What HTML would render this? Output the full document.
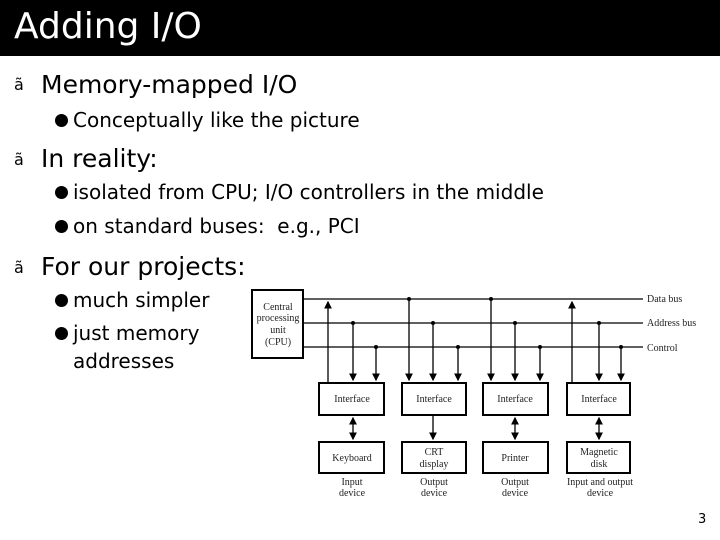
<!DOCTYPE html>
<html><head><meta charset="utf-8"><style>
body{margin:0;width:720px;height:540px;background:#fff;position:relative;overflow:hidden;font-family:"DejaVu Sans","Liberation Sans",sans-serif;}
.t{position:absolute;white-space:nowrap;color:#000;}
.b{position:absolute;width:13px;height:13px;border-radius:50%;background:#000;}
.bar{position:absolute;left:0;top:0;width:720px;height:56px;background:#000;}
</style></head><body>
<div class="bar"></div>
<div class="t" style="left:14px;top:6px;font-size:36px;color:#fff;">Adding I/O</div>
<div class="t" style="left:14px;top:75px;font-size:16px;">ã</div>
<div class="t" style="left:41px;top:70px;font-size:25px;">Memory-mapped I/O</div>
<div class="b" style="left:55px;top:114px"></div>
<div class="t" style="left:73px;top:108px;font-size:20px;">Conceptually like the picture</div>
<div class="t" style="left:14px;top:150px;font-size:16px;">ã</div>
<div class="t" style="left:41px;top:144px;font-size:25px;">In reality:</div>
<div class="b" style="left:55px;top:186px"></div>
<div class="t" style="left:73px;top:180px;font-size:20px;">isolated from CPU; I/O controllers in the middle</div>
<div class="b" style="left:55px;top:220px"></div>
<div class="t" style="left:73px;top:214px;font-size:20px;">on standard buses:&nbsp; e.g., PCI</div>
<div class="t" style="left:14px;top:258px;font-size:16px;">ã</div>
<div class="t" style="left:41px;top:252px;font-size:25px;">For our projects:</div>
<div class="b" style="left:55px;top:294px"></div>
<div class="t" style="left:73px;top:288px;font-size:20px;">much simpler</div>
<div class="b" style="left:55px;top:327px"></div>
<div class="t" style="left:73px;top:321px;font-size:20px;">just memory</div>
<div class="t" style="left:73px;top:349px;font-size:20px;">addresses</div>
<div class="t" style="left:698px;top:512px;font-size:13px;">3</div>
<svg style="position:absolute;left:0;top:0" width="720" height="540" font-family="Liberation Serif,serif" font-size="10">
<defs><marker id="a" markerWidth="6" markerHeight="6" refX="5" refY="3" orient="auto-start-reverse"><path d="M0,0L6,3L0,6z"/></marker></defs>
<g stroke="#000" fill="none">
<rect x="252" y="290" width="51" height="68" stroke-width="2"/>
<line x1="303" y1="299" x2="643" y2="299" stroke-width="1.3"/>
<line x1="303" y1="323" x2="643" y2="323" stroke-width="1.3"/>
<line x1="303" y1="347" x2="643" y2="347" stroke-width="1.3"/>
<g stroke-width="2">
<rect x="319" y="383" width="65" height="32"/><rect x="402" y="383" width="64" height="32"/><rect x="483" y="383" width="65" height="32"/><rect x="567" y="383" width="63" height="32"/>
<rect x="319" y="442" width="65" height="31"/><rect x="402" y="442" width="64" height="31"/><rect x="483" y="442" width="65" height="31"/><rect x="567" y="442" width="63" height="31"/>
</g>
<g stroke-width="1.3">
<line x1="328" y1="383" x2="328" y2="302" marker-end="url(#a)"/>
<line x1="409" y1="299" x2="409" y2="380" marker-end="url(#a)"/>
<line x1="491" y1="299" x2="491" y2="380" marker-end="url(#a)"/>
<line x1="572" y1="383" x2="572" y2="302" marker-end="url(#a)"/>
<line x1="353" y1="323" x2="353" y2="380" marker-end="url(#a)"/>
<line x1="433" y1="323" x2="433" y2="380" marker-end="url(#a)"/>
<line x1="515" y1="323" x2="515" y2="380" marker-end="url(#a)"/>
<line x1="599" y1="323" x2="599" y2="380" marker-end="url(#a)"/>
<line x1="376" y1="347" x2="376" y2="380" marker-end="url(#a)"/>
<line x1="458" y1="347" x2="458" y2="380" marker-end="url(#a)"/>
<line x1="540" y1="347" x2="540" y2="380" marker-end="url(#a)"/>
<line x1="621" y1="347" x2="621" y2="380" marker-end="url(#a)"/>
<line x1="353" y1="418" x2="353" y2="439" marker-start="url(#a)" marker-end="url(#a)"/>
<line x1="433" y1="415" x2="433" y2="439" marker-end="url(#a)"/>
<line x1="515" y1="418" x2="515" y2="439" marker-start="url(#a)" marker-end="url(#a)"/>
<line x1="599" y1="418" x2="599" y2="439" marker-start="url(#a)" marker-end="url(#a)"/>
</g></g>
<g fill="#000">
<circle cx="409" cy="299" r="2"/><circle cx="491" cy="299" r="2"/><circle cx="353" cy="323" r="2"/><circle cx="433" cy="323" r="2"/><circle cx="515" cy="323" r="2"/><circle cx="599" cy="323" r="2"/><circle cx="376" cy="347" r="2"/><circle cx="458" cy="347" r="2"/><circle cx="540" cy="347" r="2"/><circle cx="621" cy="347" r="2"/>
</g>
<g fill="#222" text-anchor="middle">
<text x="278" y="310">Central</text><text x="278" y="321">processing</text><text x="278" y="333">unit</text><text x="278" y="345">(CPU)</text>
<text x="352" y="402">Interface</text><text x="434" y="402">Interface</text><text x="515" y="402">Interface</text><text x="599" y="402">Interface</text>
<text x="352" y="461">Keyboard</text><text x="434" y="455">CRT</text><text x="434" y="467">display</text><text x="515" y="461">Printer</text><text x="599" y="455">Magnetic</text><text x="599" y="467">disk</text>
<text x="352" y="485">Input</text><text x="352" y="496">device</text><text x="434" y="485">Output</text><text x="434" y="496">device</text><text x="515" y="485">Output</text><text x="515" y="496">device</text><text x="600" y="485">Input and output</text><text x="600" y="496">device</text>
</g>
<g fill="#222"><text x="647" y="302">Data bus</text><text x="647" y="326">Address bus</text><text x="647" y="351">Control</text></g>
</svg>
</body></html>
